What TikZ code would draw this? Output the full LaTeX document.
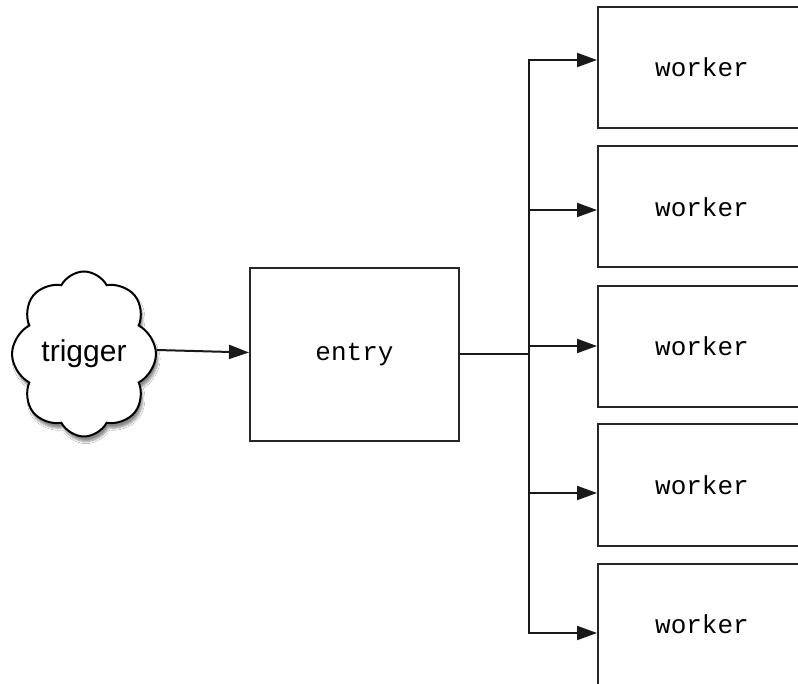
\documentclass[tikz,border=0pt]{standalone}
\usepackage{fontspec}
\setmainfont{Liberation Sans}
\newfontfamily\codefont{Liberation Mono}
\usetikzlibrary{arrows.meta,shapes.symbols,shadows.blur}

\tikzset{
  wire/.style={line width=2pt, draw=black!90},
  feed/.style={wire, -{Triangle[length=20pt,width=14pt]}},
  procbox/.style={draw=black!85, line width=2pt, rectangle, inner sep=0pt,
    font=\codefont\fontsize{26}{26}\selectfont},
  workerbox/.style={procbox, minimum width=208pt, minimum height=121pt},
  puff/.style={cloud, cloud puffs=8, cloud puff arc=125, aspect=0.85,
    draw=black, line width=2pt, fill=white, inner sep=0pt,
    minimum width=141pt, minimum height=165pt,
    font=\fontsize{30}{30}\selectfont,
    blur shadow={shadow xshift=2pt, shadow yshift=-5pt, shadow blur steps=6,
      shadow opacity=45}}
}

\begin{document}
\begin{tikzpicture}[x=1pt, y=-1pt]
  \useasboundingbox[fill=white] (0,0) rectangle (798,684);

  % source of events
  \node[puff, shape border rotate=8] (trig) at (84,354) {trigger};

  % dispatcher
  \node[procbox, minimum width=209pt, minimum height=173pt] (entry) at (354.5,354.5) {entry};

  % pool of workers
  \node[workerbox] (w1) at (702,67.5)  {worker};
  \node[workerbox] (w2) at (702,207)   {worker};
  \node[workerbox] (w3) at (702,346.5) {worker};
  \node[workerbox] (w4) at (702,485)   {worker};
  \node[workerbox] (w5) at (702,624.5) {worker};

  % fan-out bus
  \coordinate (hub) at (529,354);
  \coordinate (j1) at (529,60);
  \coordinate (j2) at (529,210);
  \coordinate (j3) at (529,346);
  \coordinate (j4) at (529,493);
  \coordinate (j5) at (529,633);

  \draw[feed] ([yshift=4pt]trig.east) -- ([yshift=2pt]entry.west);
  \draw[wire] (entry.east |- hub) -- (hub);
  \draw[wire, line cap=rect] (j1) -- (j5);
  \foreach \i in {1,...,5} {
    \draw[feed] (j\i) -- (w\i.west |- j\i);
  }
\end{tikzpicture}
\end{document}
